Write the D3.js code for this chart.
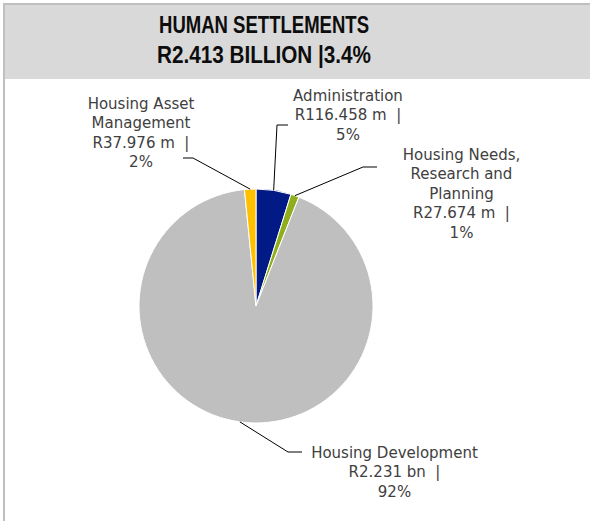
<!DOCTYPE html>
<html>
<head>
<meta charset="utf-8">
<script src="https://cdn.jsdelivr.net/npm/d3@7/dist/d3.min.js"></script>
<style>
  html, body { margin: 0; padding: 0; background: #ffffff; }
  svg { display: block; }
  .lbl { font-family: "DejaVu Sans", sans-serif; font-size: 15px; fill: #404040; white-space: pre; }
  .ttl { font-family: "Liberation Sans", Arial, sans-serif; font-weight: bold; font-size: 23px; fill: #0d0d0d; white-space: pre; }
</style>
</head>
<body>
<svg id="chart" width="590" height="521"></svg>
<script>
// Programme budget split (R million)
const categories = ["Administration", "Housing Needs, Research and Planning", "Housing Development", "Housing Asset Management"];
const labelLines = [["Administration"], ["Housing Needs,", "Research and", "Planning"], ["Housing Development"], ["Housing Asset", "Management"]];
const values = [116.458, 27.674, 2231, 37.976];
const colors = ["#021a86", "#8fad1c", "#bfbfbf", "#ffc000"];
const titleLines = ["HUMAN SETTLEMENTS", "R2.413 BILLION |3.4%"];

// Label placement: text anchor (centre x, first line centre y) and the leader elbow
const labelLayout = [
  { x: 348,   y: 95,  elbow: [277, 125], end: [288, 125] },
  { x: 461.5, y: 154, elbow: [363, 167], end: [377, 167] },
  { x: 394.5, y: 452, elbow: [288, 452], end: [302, 452] },
  { x: 141,   y: 103, elbow: [193, 158], end: [183, 158] }
];

const W = 590, H = 521;
const svg = d3.select("#chart");

// Frame and header band
svg.append("rect").attr("x", 5).attr("y", 5).attr("width", W - 5).attr("height", 74).attr("fill", "#d9d9d9");
svg.append("rect").attr("x", 3).attr("y", 3).attr("width", W - 3).attr("height", 2).attr("fill", "#bfbfbf");
svg.append("rect").attr("x", 3).attr("y", 3).attr("width", 2).attr("height", H - 3).attr("fill", "#bfbfbf");

const titleWidths = [210, 214];
const titleBaselines = [33, 63];
titleLines.forEach((t, i) => {
  svg.append("text").attr("class", "ttl")
    .attr("x", 264).attr("y", titleBaselines[i])
    .attr("text-anchor", "middle")
    .attr("textLength", titleWidths[i])
    .attr("lengthAdjust", "spacingAndGlyphs")
    .text(t);
});

// Pie
const cx = 256, cy = 306, r = 117;
const total = d3.sum(values);
const data = categories.map((c, i) => ({ name: c, value: values[i], i }));
const pie = d3.pie().sort(null).value(d => d.value);
const arcs = pie(data);
const arc = d3.arc().innerRadius(0).outerRadius(r);
const edge = d3.arc().innerRadius(r).outerRadius(r);

const g = svg.append("g").attr("transform", `translate(${cx},${cy})`);
g.selectAll("path.slice").data(arcs).join("path")
  .attr("class", "slice")
  .attr("d", arc)
  .attr("fill", d => colors[d.data.i])
  .attr("stroke", "#ffffff")
  .attr("stroke-width", 1);

// Leader lines
const fmtValue = v => v >= 1000 ? `R${(v / 1000).toFixed(3)} bn` : `R${v.toFixed(3)} m`;
arcs.forEach(d => {
  const L = labelLayout[d.data.i];
  const p = edge.centroid(d);
  const pts = [[cx + p[0], cy + p[1]], L.elbow, L.end];
  svg.append("path")
    .attr("d", d3.line()(pts))
    .attr("fill", "none")
    .attr("stroke", "#000000")
    .attr("stroke-width", 1);
});

// Data labels
const lineH = 19.5;
arcs.forEach(d => {
  const i = d.data.i;
  const L = labelLayout[i];
  const pct = Math.round(d.data.value / total * 100) + "%";
  const lines = labelLines[i].concat([fmtValue(d.data.value) + "  |", pct]);
  const t = svg.append("text").attr("class", "lbl").attr("text-anchor", "middle");
  lines.forEach((ln, k) => {
    t.append("tspan").attr("x", L.x).attr("y", L.y + k * lineH + 5.5).text(ln);
  });
});
</script>
</body>
</html>
